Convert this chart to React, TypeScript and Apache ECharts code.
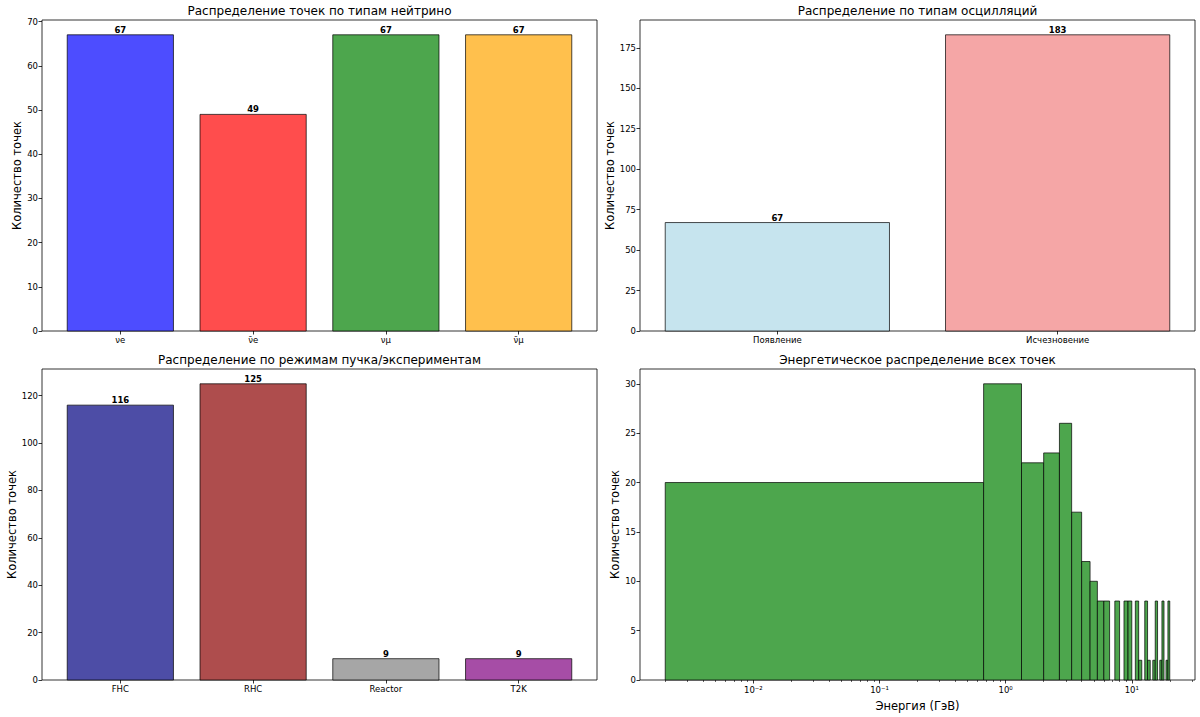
import React, { useEffect, useRef } from "react";
import * as echarts from "echarts";

// ---- Data ----
const neutrinoTypes = ["νe", "ν\u0304e", "νμ", "ν\u0304μ"];
const neutrinoCounts = [67, 49, 67, 67];
const neutrinoColors = ["#4d4dff", "#ff4d4d", "#4da64d", "#ffc04d"];

const oscTypes = ["Появление", "Исчезновение"];
const oscCounts = [67, 183];
const oscColors = ["#c6e4ee", "#f5a6a6"];

const beamModes = ["FHC", "RHC", "Reactor", "T2K"];
const beamCounts = [116, 125, 9, 9];
const beamColors = ["#4d4da6", "#ae4d4d", "#a6a6a6", "#a64da6"];

// histogram: 30 equal-width bins between energyMin and energyMax (GeV)
const energyMin = 0.002;
const energyMax = 20;
const energyCounts = [
  20, 30, 22, 23, 26, 17, 12, 10, 8, 8,
  0, 8, 0, 8, 8, 0, 8, 2, 0, 8,
  2, 0, 2, 8, 0, 2, 8, 0, 2, 8,
];

const yTicksNeutrino = [0, 10, 20, 30, 40, 50, 60, 70];
const yTicksOsc = [0, 25, 50, 75, 100, 125, 150, 175];
const yTicksBeam = [0, 20, 40, 60, 80, 100, 120];
const yTicksEnergy = [0, 5, 10, 15, 20, 25, 30];
const xMajorEnergy = [0.01, 0.1, 1, 10];
const xMinorEnergy = [
  0.002, 0.003, 0.004, 0.005, 0.006, 0.007, 0.008, 0.009,
  0.02, 0.03, 0.04, 0.05, 0.06, 0.07, 0.08, 0.09,
  0.2, 0.3, 0.4, 0.5, 0.6, 0.7, 0.8, 0.9,
  2, 3, 4, 5, 6, 7, 8, 9, 20, 30,
];

const titles = [
  "Распределение точек по типам нейтрино",
  "Распределение по типам осцилляций",
  "Распределение по режимам пучка/экспериментам",
  "Энергетическое распределение всех точек",
];
const yLabel = "Количество точек";
const xLabelEnergy = "Энергия (ГэВ)";

const FONT = "DejaVu Sans";
const EDGE = "rgba(0,0,0,0.7)";
const TICK_FS = 8.5;

const grids = [
  { left: 42, top: 20, width: 555, height: 311 },
  { left: 640, top: 20, width: 555, height: 311 },
  { left: 42, top: 369, width: 555, height: 311 },
  { left: 640, top: 369, width: 555, height: 311 },
];

const supMap: Record<string, string> = {
  "-": "\u207B", "0": "\u2070", "1": "\u00B9", "2": "\u00B2", "3": "\u00B3",
};
function sup(n: number) {
  return String(n).split("").map((c) => supMap[c] || c).join("");
}

const tickLine = { color: "#000", width: 0.8 };

function catXAxis(grid: number, names: string[]) {
  const n = names.length;
  const span = n - 1 + 0.8;
  const m = span * 0.05;
  const vals = names.map((_, i) => i);
  return {
    type: "value",
    gridIndex: grid,
    position: "bottom",
    min: -0.4 - m,
    max: n - 1 + 0.4 + m,
    axisLine: { show: false, onZero: false },
    splitLine: { show: false },
    axisTick: { show: true, length: 3.5, lineStyle: tickLine, customValues: vals },
    axisLabel: {
      customValues: vals,
      formatter: (v: number) => names[Math.round(v)] ?? "",
      fontSize: TICK_FS,
      color: "#000",
      fontFamily: FONT,
      margin: 4,
    },
  };
}

function valYAxis(grid: number, ticks: number[], maxData: number, nameGap: number) {
  return {
    type: "value",
    gridIndex: grid,
    position: "left",
    min: 0,
    max: maxData * 1.05,
    axisLine: { show: false, onZero: false },
    splitLine: { show: false },
    axisTick: { show: true, length: 3.5, lineStyle: tickLine, customValues: ticks },
    axisLabel: {
      customValues: ticks,
      fontSize: TICK_FS,
      color: "#000",
      fontFamily: FONT,
      margin: 4,
    },
    name: yLabel,
    nameLocation: "middle",
    nameRotate: 90,
    nameGap,
    nameTextStyle: { fontSize: 11.5, color: "#000", fontFamily: FONT },
  };
}

function barSeries(idx: number, values: number[], colors: string[]) {
  return {
    type: "custom",
    xAxisIndex: idx,
    yAxisIndex: idx,
    data: values.map((v, i) => [i, v]),
    encode: { x: 0, y: 1 },
    renderItem: (params: any, api: any) => {
      const i = api.value(0);
      const v = api.value(1);
      const p0 = api.coord([i - 0.4, v]);
      const p1 = api.coord([i + 0.4, 0]);
      return {
        type: "group",
        children: [
          {
            type: "rect",
            shape: { x: p0[0], y: p0[1], width: p1[0] - p0[0], height: p1[1] - p0[1] },
            style: { fill: colors[i], stroke: EDGE, lineWidth: 1 },
          },
          {
            type: "text",
            x: (p0[0] + p1[0]) / 2,
            y: p0[1] - 0.5,
            style: {
              text: String(v),
              fontWeight: "bold",
              fontSize: 8.5,
              fontFamily: FONT,
              fill: "#000",
              align: "center",
              verticalAlign: "bottom",
            },
          },
        ],
      };
    },
  };
}

export default function App() {
  const ref = useRef<HTMLDivElement>(null);

  useEffect(() => {
    document.body.style.margin = "0";
    if (!ref.current) return;
    const chart = echarts.init(ref.current, undefined, { renderer: "svg" });

    const binW = (energyMax - energyMin) / energyCounts.length;
    const histData = energyCounts
      .map((c, i) => [energyMin + i * binW, energyMin + (i + 1) * binW, c])
      .filter((d) => d[2] > 0);

    const logMin = Math.log10(energyMin);
    const logMax = Math.log10(energyMax);
    const lm = (logMax - logMin) * 0.05;
    const eMin = Math.pow(10, logMin - lm);
    const eMax = Math.pow(10, logMax + lm);

    const maxCount = Math.max(...energyCounts);

    const option: any = {
      animation: false,
      backgroundColor: "#fff",
      textStyle: { fontFamily: FONT },
      grid: grids.map((g) => ({
        ...g,
        show: true,
        borderColor: "#000",
        borderWidth: 0.8,
        backgroundColor: "transparent",
        containLabel: false,
      })),
      xAxis: [
        catXAxis(0, neutrinoTypes),
        catXAxis(1, oscTypes),
        catXAxis(2, beamModes),
        {
          type: "log",
          logBase: 10,
          gridIndex: 3,
          position: "bottom",
          min: eMin,
          max: eMax,
          axisLine: { show: false, onZero: false },
          splitLine: { show: false },
          axisTick: { show: true, length: 3.5, lineStyle: tickLine, customValues: xMajorEnergy },
          axisLabel: {
            customValues: xMajorEnergy,
            formatter: (v: number) => "10" + sup(Math.round(Math.log10(v))),
            fontSize: TICK_FS,
            color: "#000",
            fontFamily: FONT,
            margin: 5,
          },
          name: xLabelEnergy,
          nameLocation: "middle",
          nameGap: 20,
          nameTextStyle: { fontSize: 11.5, color: "#000", fontFamily: FONT },
        },
        {
          type: "log",
          logBase: 10,
          gridIndex: 3,
          position: "bottom",
          offset: 0,
          min: eMin,
          max: eMax,
          axisLine: { show: false, onZero: false },
          splitLine: { show: false },
          axisTick: { show: true, length: 2, lineStyle: { color: "#000", width: 0.6 }, customValues: xMinorEnergy },
          axisLabel: { show: false, customValues: xMinorEnergy },
        },
      ],
      yAxis: [
        valYAxis(0, yTicksNeutrino, Math.max(...neutrinoCounts), 19),
        valYAxis(1, yTicksOsc, Math.max(...oscCounts), 24),
        valYAxis(2, yTicksBeam, Math.max(...beamCounts), 24),
        valYAxis(3, yTicksEnergy, maxCount, 19),
      ],
      graphic: titles.map((t, i) => ({
        type: "text",
        x: grids[i].left + grids[i].width / 2,
        y: grids[i].top - 3,
        style: {
          text: t,
          fontSize: 12,
          fontFamily: FONT,
          fill: "#000",
          align: "center",
          verticalAlign: "bottom",
        },
      })),
      series: [
        barSeries(0, neutrinoCounts, neutrinoColors),
        barSeries(1, oscCounts, oscColors),
        barSeries(2, beamCounts, beamColors),
        {
          type: "custom",
          xAxisIndex: 3,
          yAxisIndex: 3,
          data: histData,
          encode: { x: [0, 1], y: 2 },
          renderItem: (params: any, api: any) => {
            const p0 = api.coord([api.value(0), api.value(2)]);
            const p1 = api.coord([api.value(1), 0]);
            return {
              type: "rect",
              shape: { x: p0[0], y: p0[1], width: p1[0] - p0[0], height: p1[1] - p0[1] },
              style: { fill: "#4da64d", stroke: EDGE, lineWidth: 1 },
            };
          },
        },
      ],
    };

    chart.setOption(option);
    return () => chart.dispose();
  }, []);

  return <div ref={ref} style={{ width: 1200, height: 717 }} />;
}
